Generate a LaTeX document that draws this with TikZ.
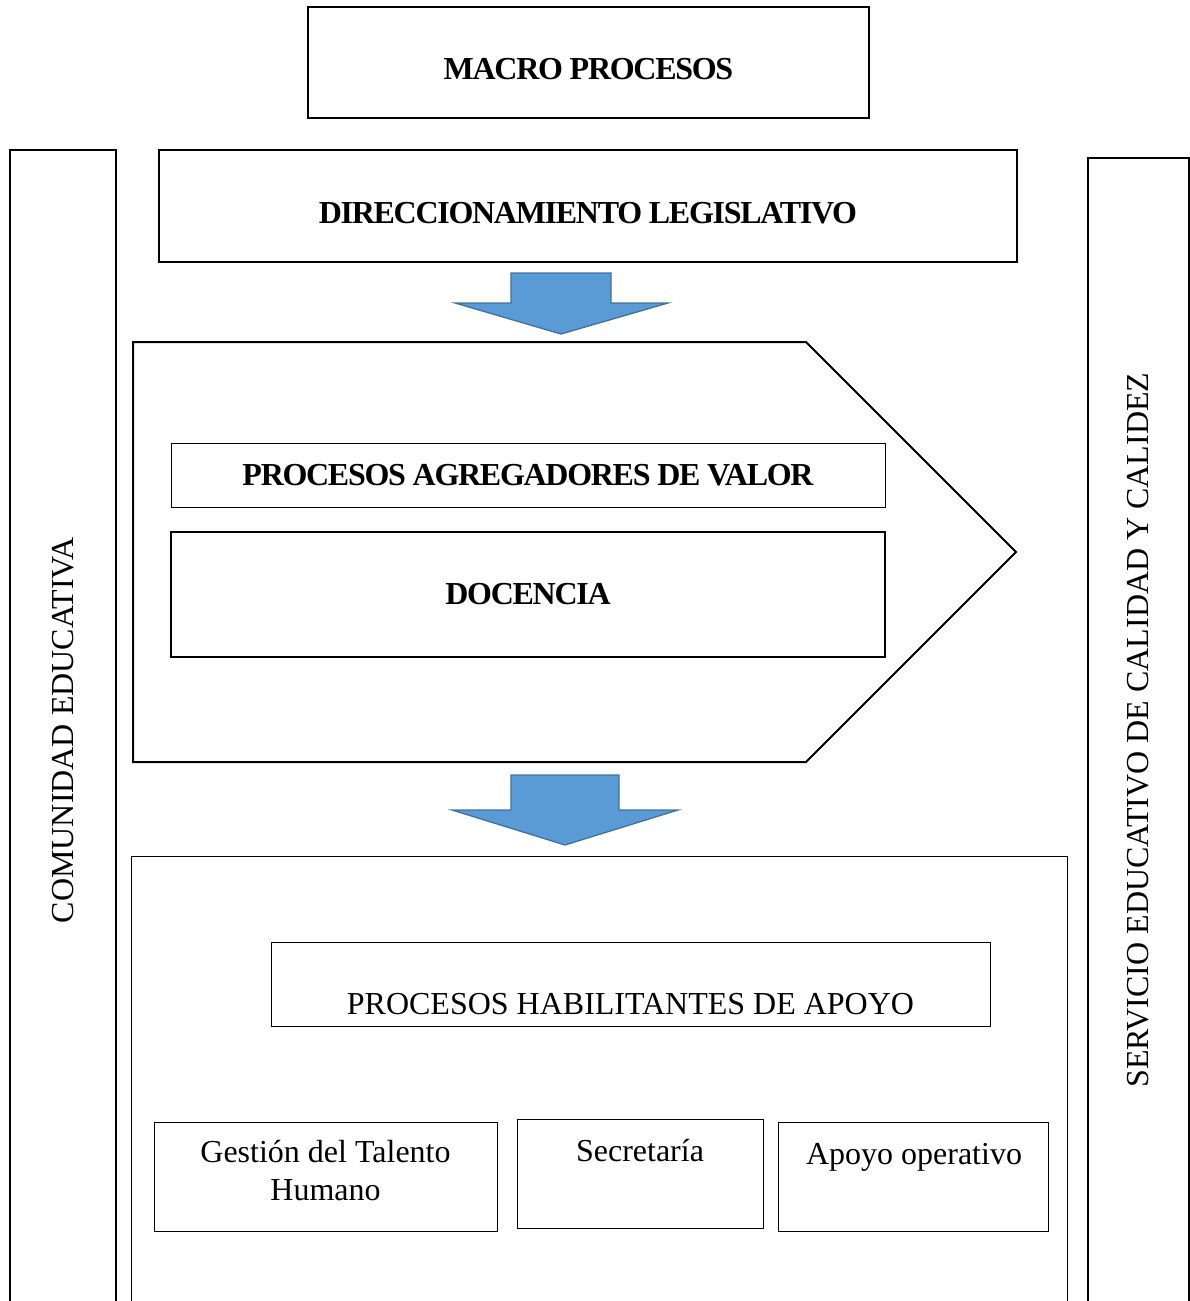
\documentclass[tikz,border=0pt]{standalone}
\usepackage{fontspec}
\setmainfont{Liberation Serif}
\newfontfamily\negrita[LetterSpace=-4.0]{Liberation Serif}
\usetikzlibrary{positioning}
\definecolor{azulflecha}{HTML}{5B9BD5}
\definecolor{bordeflecha}{HTML}{41719C}
\begin{document}
\begin{tikzpicture}[x=1pt,y=-1pt]
		% formatos
		\tikzstyle{caja} = [draw, line width=2pt, inner sep=0pt]
		\tikzstyle{cajafina} = [draw, line width=1pt, inner sep=0pt]
		\tikzstyle{titulo} = [font=\fontsize{32}{38}\negrita\bfseries]
		\tikzstyle{texto} = [font=\fontsize{32}{38}\selectfont, align=center]
		\tikzstyle{flecha} = [fill=azulflecha, draw=bordeflecha, line width=1.3pt]
		\useasboundingbox (0,0) rectangle (1189,1301);
		% barras laterales
		\node [caja, texto, rotate=90, minimum width=1160, minimum height=106] (comunidad) at (63,730)
{COMUNIDAD EDUCATIVA};
		\node [caja, texto, rotate=90, minimum width=1144, minimum height=101] (servicio) at (1138.5,730)
{SERVICIO EDUCATIVO DE CALIDAD Y CALIDEZ};
		% nodos
		\node [caja, minimum width=561, minimum height=111] (macro) at (588.5,62.5) {};
		\node [titulo] (tmacro) at ([yshift=-7pt]macro.center) {MACRO PROCESOS};
		\node [caja, minimum width=858, minimum height=112] (direccion) at (588,206) {};
		\node [titulo] (tdireccion) at ([yshift=-7pt]direccion.center) {DIRECCIONAMIENTO LEGISLATIVO};
		\draw [caja] (133,342) coordinate (p1) -- (806,342) -- (1016,552) coordinate (punta) -- (806,762) -- (133,762) -- cycle;
		\node [cajafina, titulo, minimum width=714, minimum height=64] (agregadores) at (528,475)
{PROCESOS AGREGADORES DE VALOR};
		\node [caja, titulo, minimum width=714, minimum height=125] (docencia) at (528,594.5) {DOCENCIA};
		\node [cajafina, minimum width=936, minimum height=464] (apoyo) at (599,1088) {};
		\node [cajafina, minimum width=719, minimum height=84] (habilitantes) at (630.5,984) {};
		\node [texto] (thabilitantes) at ([yshift=-20pt]habilitantes.center) {PROCESOS HABILITANTES DE APOYO};
		\node [cajafina, minimum width=343, minimum height=109] (talento) at (325.5,1176.5) {};
		\node [cajafina, minimum width=246, minimum height=109] (secretaria) at (640,1173.5) {};
		\node [cajafina, minimum width=270, minimum height=109] (operativo) at (913,1176.5) {};
		\node [texto] (ttalento) at (325.5,1171) {Gestión del Talento\\Humano};
		\node [texto] (tsecretaria) at (640,1151) {Secretaría};
		\node [texto] (toperativo) at (914,1157.5) {Apoyo operativo};
		% flechas
		\draw [flecha] (511,273) -- (611,273) -- (611,303) -- (668,303) -- (561,334) -- (455,303) -- (511,303) -- cycle;
		\draw [flecha] (511,775) -- (619,775) -- (619,810) -- (678,810) -- (565,845) -- (452,810) -- (511,810) -- cycle;
	\end{tikzpicture}
\end{document}
